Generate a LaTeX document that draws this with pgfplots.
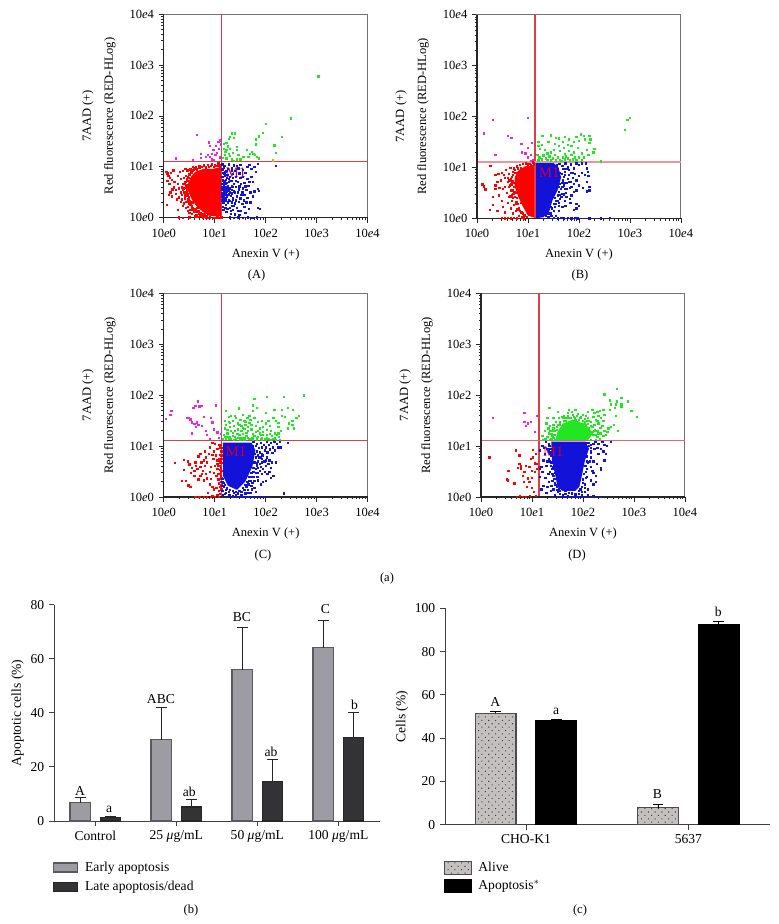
\documentclass[border=0pt]{standalone}
\usepackage{fontspec}
\setmainfont{Liberation Serif}
\usepackage{pgfplots}
\pgfplotsset{compat=1.18}
\usetikzlibrary{patterns.meta}
\newcommand\fl{\fontsize{9.4}{11}\selectfont}
\newcommand\fb{\fontsize{10.2}{12}\selectfont}
\definecolor{qline}{RGB}{222,60,72}
\definecolor{fred}{HTML}{FF0000}
\definecolor{fblue}{HTML}{1212D8}
\definecolor{fgreen}{HTML}{22E622}
\definecolor{fmag}{HTML}{E826E0}
\definecolor{forange}{HTML}{F0A020}
\definecolor{early}{HTML}{9C9CA2}
\definecolor{earlyb}{HTML}{5A5A5E}
\definecolor{late}{HTML}{333335}
\definecolor{alive}{HTML}{C4C0C0}
\pgfplotsset{
 flow/.style={
  scale only axis, width=152.9pt, height=152.7pt, anchor=south west,
  xmin=0,xmax=4,ymin=0,ymax=4,
  xtick={0,1,2,3,4},ytick={0,1,2,3,4},
  xticklabels={10\textit{e}0,10\textit{e}1,10\textit{e}2,10\textit{e}3,10\textit{e}4},
  yticklabels={10\textit{e}0,10\textit{e}1,10\textit{e}2,10\textit{e}3,10\textit{e}4},
  minor xtick={0.301,0.477,0.602,0.699,0.778,0.845,0.903,0.954,1.301,1.477,1.602,1.699,1.778,1.845,1.903,1.954,2.301,2.477,2.602,2.699,2.778,2.845,2.903,2.954,3.301,3.477,3.602,3.699,3.778,3.845,3.903,3.954},
  minor ytick={0.301,0.477,0.602,0.699,0.778,0.845,0.903,0.954,1.301,1.477,1.602,1.699,1.778,1.845,1.903,1.954,2.301,2.477,2.602,2.699,2.778,2.845,2.903,2.954,3.301,3.477,3.602,3.699,3.778,3.845,3.903,3.954},
  tick align=outside, xtick pos=bottom, ytick pos=left,
  major tick length=3.75pt, minor tick length=1.8pt,
  tick style={black!85,line width=.5pt},
  axis line style={black!55,line width=.8pt},
  tick label style={font=\fl},
  xticklabel style={yshift=-1pt},
  xlabel={Anexin V (+)}, ylabel={7AAD (+)\\[5.5pt]Red fluorescence (RED-HLog)},
  xlabel style={font=\fl,at={(axis description cs:0.5,-0.18)},anchor=center},
  ylabel style={font=\fl,at={(axis description cs:-0.318,0.5)},anchor=center,align=center},
  clip=false,
 },
 pts/.style={only marks,mark=square*,mark size=0.5pt,color=#1},
 core/.style={fill=#1,draw=none,mark=none},
 qln/.style={color=qline,line width=.9pt,mark=none},
 barax/.style={
  scale only axis, anchor=south west, height=162.3pt,
  axis x line*=bottom, axis y line*=left,
  axis line style={-,black!75,line width=.7pt},
  tick style={black!75,line width=.7pt},
  tick align=outside, major tick length=3.75pt,
  tick label style={font=\fb},
  /pgf/number format/assume math mode=true,
  ylabel style={font=\fb},
  ymin=0,
  clip=false,
  legend style={draw=none,fill=none,font=\fb,legend cell align=left,row sep=2.2pt,inner sep=0pt,column sep=3pt},
 },
}
\begin{document}
\begin{tikzpicture}
\path[use as bounding box] (0,0) rectangle (583.5pt,693pt);
% Log10 of the fluorescence is plotted. Dot clouds are read by eye from the picture;
% where the dots merge into a solid mass the mass is drawn as a filled area.
%% ---------- Panel A
\begin{axis}[flow,at={(122.78pt,529.73pt)}]
\addplot[core=fred] coordinates {(1.137,1.0)(0.97,0.96)(0.78,0.96)(0.62,0.9)(0.53,0.8)(0.48,0.68)(0.48,0.52)(0.55,0.36)(0.63,0.24)(0.76,0.12)(0.88,0.04)(1.137,0.02)} --cycle;
\addplot[pts=fred] coordinates {(0.07,0.87)(0.09,0.82)(0.12,0.79)(0.14,0.88)(0.07,0.72)(0.16,0.74)(0.2,0.6)(0.24,0.55)(0.13,0.5)(0.1,0.45)(0.16,0.42)(0.06,0.25)(0.27,0.66)(0.3,0.58)(0.33,0.5)(0.36,0.45)(0.3,0.4)(0.19,0.93)(0.05,0.9)(0.11,0.67)(0.17,0.56)(0.24,0.47)(0.27,0.82)(0.31,0.9)(0.34,0.77)(0.38,0.92)(0.42,0.96)(0.37,0.66)(0.4,0.58)(0.43,0.82)(0.46,0.93)(0.41,0.38)(0.44,0.31)(0.38,0.24)(0.47,0.22)(0.5,0.28)(0.52,0.15)(0.56,0.2)(0.6,0.11)(0.64,0.06)(0.68,0.14)(0.72,0.05)(0.76,0.01)(0.82,0.01)(0.46,0.72)(0.44,0.6)(0.47,0.47)(0.49,0.4)(0.52,0.95)(0.57,1.0)(0.63,1.0)(0.7,1.02)(0.78,1.03)(0.86,1.04)(0.94,1.05)(1.0,1.03)(1.07,1.07)(1.12,1.04)(0.55,0.88)(0.59,0.95)(0.3,0.01)(0.38,0.0)(0.5,0.01)(0.56,0.3)(0.6,0.18)(0.72,0.1)(0.66,0.19)(0.8,0.06)(0.9,0.01)(0.96,0.0)(1.05,0.01)(1.1,0.0)(0.49,0.78)(0.51,0.62)(0.21,0.71)(0.26,0.36)(0.33,0.31)(0.28,0.16)(0.42,0.7)(0.44,0.64)(0.45,0.56)(0.44,0.5)(0.46,0.44)(0.48,0.36)(0.5,0.33)(0.52,0.26)(0.55,0.24)(0.58,0.16)(0.62,0.16)(0.66,0.12)(0.7,0.08)(0.74,0.07)(0.78,0.07)(0.84,0.03)(0.5,0.85)(0.47,0.8)(0.45,0.76)(0.53,0.9)(0.56,0.93)(0.6,0.97)(0.65,0.95)(0.7,0.98)(0.75,1.0)(0.82,0.99)(0.88,1.0)(0.92,1.02)(0.98,1.0)(1.05,1.02)(1.1,1.01)(0.4,0.5)(0.42,0.44)(0.38,0.55)(0.41,0.66)(0.39,0.78)(0.35,0.6)(0.36,0.36)(0.4,0.28)(0.43,0.2)(0.47,0.14)(0.5,0.1)(0.55,0.08)(0.62,0.03)(0.68,0.02)(0.8,0.02)(0.86,0.0)(1.0,0.0)(1.13,0.01)(1.07,0.0)};
\addplot[pts=fblue] coordinates {(1.15,0.95)(1.19,1.02)(1.23,0.92)(1.28,1.05)(1.33,0.97)(1.37,1.03)(1.4,0.92)(1.46,0.97)(1.5,1.04)(1.55,0.94)(1.6,0.88)(1.64,1.0)(1.68,1.04)(1.72,0.96)(1.78,1.0)(1.85,1.06)(1.8,0.9)(1.72,0.8)(1.64,0.77)(1.55,0.8)(1.48,0.87)(1.42,0.8)(1.36,0.86)(1.3,0.8)(1.25,0.84)(1.19,0.87)(1.15,0.8)(1.17,0.72)(1.22,0.75)(1.27,0.7)(1.33,0.72)(1.38,0.66)(1.45,0.7)(1.51,0.66)(1.58,0.69)(1.66,0.63)(1.75,0.7)(1.85,0.57)(1.86,0.53)(1.78,0.52)(1.7,0.5)(1.62,0.55)(1.54,0.5)(1.47,0.56)(1.4,0.5)(1.34,0.55)(1.28,0.57)(1.23,0.6)(1.18,0.62)(1.15,0.55)(1.2,0.5)(1.25,0.45)(1.31,0.43)(1.36,0.39)(1.43,0.42)(1.5,0.38)(1.57,0.34)(1.64,0.39)(1.54,0.27)(1.47,0.31)(1.4,0.28)(1.33,0.3)(1.27,0.35)(1.2,0.38)(1.15,0.42)(1.16,0.3)(1.22,0.25)(1.29,0.2)(1.36,0.16)(1.43,0.2)(1.5,0.14)(1.58,0.22)(1.67,0.18)(1.85,0.19)(1.89,0.18)(1.6,0.1)(1.48,0.06)(1.4,0.07)(1.31,0.08)(1.23,0.12)(1.17,0.16)(1.3,0.01)(1.38,0.0)(1.46,0.01)(1.55,0.0)(1.65,0.01)(1.74,0.0)(1.82,0.01)(1.15,0.67)(1.21,0.66)(1.26,0.62)(1.17,0.46)(1.19,0.56)(1.24,0.52)(1.3,0.5)(1.35,0.61)(1.42,0.61)(1.16,0.22)(1.21,0.33)(1.34,0.24)(1.45,0.13)(1.52,0.45)(1.6,0.62)(1.68,0.71)(2.2,1.02)(1.15,1.05)(1.18,0.98)(1.21,0.9)(1.16,0.88)(1.2,0.82)(1.24,0.78)(1.16,0.75)(1.19,0.7)(1.23,0.68)(1.27,0.76)(1.3,0.72)(1.15,0.6)(1.17,0.58)(1.21,0.56)(1.24,0.57)(1.27,0.53)(1.3,0.58)(1.33,0.62)(1.18,0.52)(1.21,0.46)(1.24,0.42)(1.28,0.46)(1.33,0.48)(1.38,0.52)(1.15,0.48)(1.17,0.4)(1.22,0.36)(1.26,0.3)(1.3,0.33)(1.35,0.36)(1.15,0.34)(1.18,0.3)(1.21,0.2)(1.25,0.17)(1.32,0.14)(1.38,0.24)(1.42,0.34)(1.45,0.5)(1.48,0.62)(1.41,0.72)(1.36,0.78)(1.33,0.92)(1.26,0.96)(1.43,1.02)(1.5,0.78)(1.55,0.58)(1.58,0.45)(1.62,0.3)(1.7,0.3)(1.75,0.42)};
\addplot[pts=fgreen] coordinates {(3.03,2.78)(2.49,1.95)(2.0,1.84)(1.94,1.67)(1.86,1.6)(1.81,1.54)(1.81,1.44)(2.17,1.42)(2.31,1.59)(2.2,1.27)(1.33,1.66)(1.4,1.66)(1.29,1.59)(1.37,1.57)(1.27,1.55)(1.18,1.45)(1.23,1.47)(1.3,1.36)(1.23,1.33)(1.18,1.36)(1.27,1.26)(1.2,1.23)(1.3,1.21)(1.23,1.17)(1.33,1.15)(1.43,1.39)(1.43,1.33)(1.46,1.23)(1.5,1.15)(1.43,1.15)(1.56,1.2)(1.63,1.33)(1.66,1.2)(1.73,1.29)(1.76,1.26)(1.79,1.23)(1.83,1.2)(1.86,1.17)(1.69,1.26)(1.26,1.4)(1.21,1.29)(1.36,1.28)(1.16,1.18)(1.38,1.12)};
\addplot[pts=forange] coordinates {(2.14,1.13)};
\addplot[pts=fmag] coordinates {(0.24,1.17)(0.65,1.63)(0.57,1.13)(0.73,1.25)(0.73,1.18)(0.83,1.2)(0.88,1.48)(0.9,1.41)(0.91,1.2)(0.94,1.25)(0.97,1.33)(1.02,1.41)(1.04,1.27)(1.07,1.49)(1.1,1.52)(1.08,1.36)(1.1,1.19)(1.12,1.44)(1.01,1.23)(0.97,1.14)(0.94,1.15)(0.86,1.24)};
\addplot[qln] coordinates {(1.137,0)(1.137,4)};
\addplot[qln] coordinates {(0,1.105)(4,1.105)};
\node[text=purple!80!red,font=\fontsize{11}{12}\selectfont] at (axis cs:1.42,0.89) {M1};
\draw[black!85,line width=.9pt] (rel axis cs:0,1)--(rel axis cs:0,0)--(rel axis cs:1,0);
\end{axis}
%% ---------- Panel B
\begin{axis}[flow,at={(357.75pt,529.28pt)}]
\addplot[core=fred] coordinates {(1.137,1.05)(0.94,1.02)(0.8,0.93)(0.74,0.8)(0.74,0.62)(0.81,0.42)(0.9,0.23)(1.0,0.05)(1.137,0.01)} --cycle;
\addplot[pts=fred] coordinates {(0.1,0.67)(0.13,0.63)(0.16,0.57)(0.31,0.27)(0.31,0.42)(0.36,0.58)(0.36,0.65)(0.25,0.17)(0.4,0.15)(0.48,0.35)(0.5,0.22)(0.55,0.12)(0.6,0.3)(0.43,0.45)(0.4,0.72)(0.46,0.75)(0.52,0.85)(0.48,0.9)(0.56,0.95)(0.62,0.88)(0.6,0.72)(0.55,0.62)(0.5,0.58)(0.58,0.5)(0.63,0.42)(0.66,0.55)(0.68,0.35)(0.72,0.27)(0.66,0.2)(0.7,0.1)(0.76,0.15)(0.82,0.05)(0.88,0.02)(0.65,0.99)(0.7,0.92)(0.64,0.65)(0.69,0.73)(0.72,0.98)(0.78,1.02)(0.84,1.05)(0.9,1.07)(0.96,1.08)(1.03,1.07)(1.09,1.1)(0.55,0.8)(0.6,0.8)(0.68,0.82)(0.72,0.62)(0.71,0.48)(0.77,0.33)(0.82,0.2)(0.9,0.1)(0.48,0.01)(0.55,0.0)(0.6,0.01)(0.66,0.0)(0.72,0.01)(0.78,0.0)(0.92,0.0)(0.26,1.03)(0.36,0.85)(0.68,0.45)(0.75,0.9)(0.42,0.88)(0.44,0.6)(0.72,0.7)(0.7,0.85)(0.74,0.95)(0.66,0.78)(0.67,0.67)(0.7,0.55)(0.74,0.42)(0.76,0.28)(0.8,0.28)(0.84,0.15)(0.87,0.12)(0.93,0.06)(0.97,0.03)(0.79,0.18)(0.65,0.43)(0.7,0.4)(0.62,0.62)(0.63,0.75)(0.8,0.98)(0.86,0.98)(1.0,1.06)(1.05,1.05)(1.12,1.08)(0.73,0.52)(0.77,0.5)(0.78,0.4)(0.86,0.3)};
\addplot[core=fblue] coordinates {(1.15,1.09)(1.5,1.09)(1.6,1.0)(1.65,0.8)(1.58,0.55)(1.48,0.35)(1.42,0.14)(1.3,0.02)(1.15,0.0)} --cycle;
\addplot[pts=fblue] coordinates {(1.6,1.07)(1.67,1.03)(1.73,1.08)(1.78,1.0)(1.84,1.06)(1.9,0.98)(1.95,1.08)(2.0,1.05)(2.06,1.08)(2.13,1.08)(2.16,0.98)(2.17,0.92)(2.05,0.9)(2.0,0.83)(2.12,0.85)(2.18,0.83)(2.16,0.72)(1.95,0.75)(1.88,0.9)(1.8,0.85)(1.72,0.92)(1.68,0.75)(1.75,0.7)(1.83,0.72)(1.9,0.68)(2.0,0.65)(2.08,0.6)(2.2,0.62)(2.2,0.55)(2.15,0.53)(1.95,0.55)(1.82,0.6)(1.7,0.65)(1.64,0.58)(1.74,0.5)(1.85,0.45)(1.9,0.52)(1.72,0.35)(1.65,0.42)(1.58,0.45)(1.6,0.3)(1.67,0.22)(1.73,0.25)(1.83,0.3)(1.95,0.28)(2.0,0.25)(1.9,0.17)(1.95,0.2)(1.6,0.15)(1.52,0.22)(1.45,0.1)(1.55,0.05)(1.4,0.03)(1.35,0.06)(1.5,0.01)(1.58,0.0)(1.65,0.01)(1.7,0.0)(1.78,0.01)(1.85,0.0)(1.92,0.01)(1.97,0.0)(2.2,0.0)(2.43,0.0)(2.6,0.01)(1.55,0.7)(1.62,0.9)(1.56,1.04)(1.62,0.68)(1.7,0.82)(1.88,0.8)(1.8,0.95)(1.76,0.58)(1.66,0.48)(1.55,0.34)(1.5,0.28)(1.47,0.2)(1.58,0.35)(1.75,0.42)(1.82,0.38)(1.63,1.07)(1.69,0.97)(1.75,0.97)(1.66,0.88)(1.72,0.86)(1.78,0.78)(1.66,0.7)(1.71,0.7)(1.6,0.62)(1.67,0.62)(1.72,0.58)(1.6,0.52)(1.7,0.47)(1.62,0.46)(1.52,0.4)(1.62,0.38)(1.54,0.28)(1.6,0.24)(1.45,0.22)(1.5,0.15)(1.42,0.1)(1.46,0.05)(1.38,0.09)(1.8,0.72)(1.85,0.9)(1.92,0.88)(1.85,0.62)};
\addplot[pts=fgreen] coordinates {(3.0,1.98)(2.95,1.93)(2.9,1.74)(2.43,1.12)(2.3,1.37)(2.28,1.3)(2.22,1.55)(2.2,1.62)(2.2,1.48)(2.12,1.55)(2.1,1.62)(2.03,1.65)(2.0,1.52)(1.95,1.6)(1.9,1.5)(1.85,1.42)(1.8,1.55)(1.72,1.6)(1.78,1.45)(1.68,1.5)(1.6,1.57)(1.55,1.58)(1.45,1.63)(1.4,1.5)(1.28,1.62)(1.2,1.5)(1.2,1.42)(1.23,1.37)(1.27,1.44)(1.33,1.35)(1.38,1.28)(1.45,1.3)(1.5,1.35)(1.52,1.47)(1.6,1.42)(1.63,1.32)(1.7,1.38)(1.72,1.27)(1.8,1.32)(1.85,1.25)(1.9,1.3)(1.92,1.2)(1.98,1.38)(2.05,1.28)(2.1,1.2)(2.18,1.25)(2.15,1.35)(1.18,1.25)(1.22,1.2)(1.3,1.24)(1.35,1.18)(1.42,1.22)(1.48,1.18)(1.52,1.25)(1.58,1.2)(1.62,1.15)(1.68,1.2)(1.72,1.16)(1.78,1.18)(1.82,1.14)(1.88,1.16)(1.95,1.14)(2.0,1.2)(1.45,1.14)(1.38,1.15)(1.27,1.16)(1.2,1.14)(1.55,1.14)(1.65,1.13)(2.05,1.14)(1.74,1.22)};
\addplot[pts=fmag] coordinates {(0.31,1.94)(0.13,1.67)(0.61,1.62)(1.0,1.97)(0.36,1.25)(0.87,1.47)(1.0,1.38)(1.08,1.48)(0.88,1.3)(0.95,1.28)(1.05,1.25)(1.0,1.2)(1.05,1.13)(1.1,1.15)(0.67,1.58)};
\addplot[qln] coordinates {(1.137,0)(1.137,4)};
\addplot[color=qline!55,line width=1.3pt,mark=none] coordinates {(0,1.105)(4,1.105)};
\node[text=purple!80!red,font=\fontsize{11}{12}\selectfont] at (axis cs:1.42,0.89) {M1};
\draw[black!85,line width=.9pt] (rel axis cs:0,1)--(rel axis cs:0,0)--(rel axis cs:1,0);
\end{axis}
%% ---------- Panel C
\begin{axis}[flow,at={(122.78pt,320.25pt)}]
\addplot[pts=fred] coordinates {(0.22,0.67)(0.4,0.73)(0.47,0.7)(0.5,0.64)(0.4,0.54)(0.35,0.32)(0.43,0.32)(0.48,0.23)(0.52,0.2)(0.55,0.58)(0.53,0.47)(0.6,0.52)(0.62,0.68)(0.63,0.62)(0.68,0.8)(0.72,0.85)(0.8,0.9)(0.82,0.78)(0.74,0.68)(0.78,0.72)(0.8,0.62)(0.76,0.52)(0.82,0.45)(0.72,0.42)(0.68,0.35)(0.78,0.33)(0.85,0.37)(0.9,0.5)(0.92,0.6)(0.97,0.75)(0.98,0.9)(1.05,0.95)(0.9,0.98)(0.88,0.85)(0.95,0.83)(1.02,0.82)(1.05,0.72)(1.0,0.62)(1.05,0.55)(0.98,0.48)(1.03,0.42)(0.92,0.36)(1.07,0.35)(0.9,0.25)(0.95,0.2)(0.98,0.15)(1.03,0.18)(1.08,0.27)(1.08,0.12)(1.1,0.62)(1.12,0.5)(1.12,0.72)(1.1,0.83)(1.12,0.42)(1.13,0.9)(1.08,1.02)(0.95,1.06)(1.0,1.05)(1.12,1.03)(1.1,0.98)(1.13,0.3)(1.1,0.2)(1.13,0.15)(1.1,0.06)(1.05,0.05)(0.95,0.03)(0.87,0.08)(0.62,0.01)(0.7,0.0)(0.78,0.01)(0.85,0.0)(0.92,0.01)(1.0,0.0)(1.08,0.01)(1.05,0.65)(1.09,0.45)(1.12,0.58)(1.13,0.67)(1.1,0.36)(1.13,0.82)(0.85,0.68)(0.6,0.42)(0.66,0.55)(0.72,0.6)(0.75,0.46)(1.13,0.97)(1.13,0.75)(1.13,0.52)(1.13,0.38)(1.13,0.23)(1.11,0.68)(1.11,0.54)(1.09,0.74)(1.07,0.62)(1.07,0.46)};
\addplot[core=fblue] coordinates {(1.16,1.07)(1.72,1.07)(1.8,0.92)(1.74,0.6)(1.6,0.3)(1.44,0.14)(1.26,0.22)(1.16,0.42)} --cycle;
\addplot[pts=fblue] coordinates {(1.15,0.3)(1.18,0.2)(1.22,0.14)(1.27,0.1)(1.2,0.06)(1.3,0.05)(1.38,0.08)(1.45,0.07)(1.52,0.1)(1.58,0.14)(1.62,0.2)(1.66,0.25)(1.7,0.32)(1.74,0.28)(1.76,0.4)(1.8,0.48)(1.84,0.4)(1.88,0.52)(1.92,0.45)(1.95,0.55)(1.98,0.5)(2.0,0.62)(2.03,0.46)(2.07,0.5)(1.82,0.62)(1.85,0.7)(1.88,0.65)(1.92,0.75)(1.97,0.7)(2.02,0.78)(2.07,0.72)(2.12,0.68)(2.2,0.68)(1.84,0.82)(1.88,0.88)(1.92,0.84)(1.98,0.92)(2.03,0.88)(2.08,0.94)(2.13,0.87)(2.18,0.92)(2.25,0.98)(1.76,1.08)(1.83,1.05)(1.9,1.07)(1.96,1.03)(2.02,1.08)(2.1,1.06)(2.17,1.08)(2.22,1.05)(2.28,1.08)(2.43,1.07)(2.3,0.98)(1.3,0.0)(1.38,0.01)(1.45,0.0)(1.52,0.01)(1.6,0.0)(1.68,0.01)(1.75,0.0)(1.85,0.01)(1.95,0.0)(2.02,0.01)(2.35,0.07)(1.8,0.1)(1.7,0.08)(1.9,0.25)(1.85,0.33)(2.0,0.32)(2.1,0.38)(2.15,0.42)(1.78,0.18)(1.6,0.07)(1.65,0.14)(1.15,0.12)(1.16,0.05)(2.1,0.58)(2.05,0.65)(1.95,0.3)(1.72,0.22)(1.75,1.0)(1.8,1.0)(1.86,0.97)(1.92,0.98)(1.78,0.85)(1.83,0.9)(1.8,0.78)(1.86,0.78)(1.9,0.78)(1.78,0.68)(1.83,0.66)(1.76,0.58)(1.8,0.56)(1.85,0.58)(1.9,0.6)(1.72,0.48)(1.76,0.5)(1.68,0.4)(1.72,0.4)(1.64,0.3)(1.68,0.32)(1.6,0.24)(1.55,0.18)(1.48,0.12)(1.42,0.1)(1.35,0.12)(1.3,0.14)(1.24,0.17)(1.2,0.24)(1.17,0.28)(1.15,0.36)(1.15,0.22)(1.22,0.08)(1.85,0.48)(1.82,0.4)(1.78,0.32)(1.73,0.15)(1.65,0.08)(1.52,0.04)(1.42,0.05)(1.35,0.03)(1.27,0.04)(1.95,0.82)(2.0,0.98)(2.06,1.02)(2.0,0.72)(1.93,0.68)(2.14,0.98)};
\addplot[pts=fgreen] coordinates {(1.22,1.7)(1.47,1.74)(1.75,1.8)(1.78,1.93)(2.02,1.97)(2.35,1.97)(2.75,2.0)(2.53,1.72)(2.65,1.6)(2.6,1.55)(2.43,1.75)(2.32,1.72)(2.17,1.72)(2.0,1.66)(1.83,1.75)(1.75,1.7)(1.68,1.6)(1.55,1.62)(1.4,1.6)(1.32,1.6)(1.28,1.58)(1.2,1.5)(1.22,1.42)(1.28,1.48)(1.35,1.5)(1.42,1.55)(1.5,1.52)(1.58,1.5)(1.64,1.55)(1.7,1.52)(1.78,1.55)(1.85,1.48)(1.92,1.5)(2.0,1.45)(2.08,1.4)(2.15,1.55)(2.2,1.5)(2.32,1.6)(2.45,1.45)(2.52,1.42)(2.55,1.35)(2.43,1.35)(2.3,1.3)(2.25,1.38)(2.18,1.25)(2.1,1.3)(2.02,1.32)(1.95,1.38)(1.88,1.35)(1.8,1.4)(1.72,1.42)(1.65,1.38)(1.6,1.42)(1.52,1.4)(1.45,1.45)(1.38,1.4)(1.3,1.38)(1.25,1.32)(1.2,1.35)(1.18,1.22)(1.25,1.25)(1.32,1.3)(1.4,1.3)(1.45,1.33)(1.52,1.3)(1.58,1.34)(1.65,1.3)(1.72,1.33)(1.8,1.28)(1.88,1.25)(1.95,1.28)(2.02,1.22)(2.08,1.24)(2.12,1.2)(2.18,1.16)(2.22,1.22)(2.26,1.18)(2.28,1.13)(2.15,1.14)(2.05,1.14)(1.98,1.15)(1.9,1.14)(1.85,1.18)(1.78,1.2)(1.7,1.15)(1.62,1.2)(1.55,1.15)(1.48,1.22)(1.42,1.15)(1.35,1.2)(1.28,1.15)(1.22,1.15)(1.16,1.14)(1.2,1.18)(1.32,1.14)(1.38,1.13)(1.5,1.13)(1.58,1.13)(1.68,1.14)(1.75,1.13)(1.82,1.13)(1.92,1.13)(2.0,1.13)(2.1,1.13)(2.2,1.13)(2.25,1.25)(1.35,1.26)(1.44,1.24)(1.55,1.24)(1.62,1.26)(1.75,1.24)(1.68,1.46)(1.9,1.22)(2.05,1.5)(1.48,1.42)(1.3,1.46)(2.38,1.58)(2.52,1.5)(2.25,1.46)(1.25,1.18)(1.3,1.18)(1.4,1.18)(1.46,1.17)(1.52,1.17)(1.58,1.17)(1.65,1.17)(1.74,1.17)(1.82,1.17)(1.93,1.17)(2.02,1.17)(1.6,1.48)(1.55,1.36)(1.85,1.3)(1.95,1.22)};
\addplot[pts=fmag] coordinates {(0.04,1.54)(0.13,1.62)(0.15,1.69)(0.45,1.56)(0.48,1.55)(0.52,1.53)(0.55,1.47)(0.6,1.44)(0.63,1.38)(0.65,1.47)(0.68,1.42)(0.75,1.4)(0.78,1.58)(0.92,1.55)(0.95,1.47)(0.58,1.75)(0.62,1.79)(0.67,1.88)(0.7,1.78)(0.75,1.79)(1.02,1.8)(0.55,1.25)(0.83,1.3)(0.85,1.22)(0.98,1.33)(1.05,1.27)(1.08,1.16)(1.12,1.24)(0.9,1.15)};
\addplot[qln] coordinates {(1.137,0)(1.137,4)};
\addplot[qln] coordinates {(0,1.11)(4,1.11)};
\node[text=purple!80!red,font=\fontsize{11}{12}\selectfont] at (axis cs:1.42,0.89) {M1};
\draw[black!85,line width=.9pt] (rel axis cs:0,1)--(rel axis cs:0,0)--(rel axis cs:1,0);
\end{axis}
%% ---------- Panel D
\begin{axis}[flow,at={(360.75pt,320.25pt)}]
\addplot[pts=fred] coordinates {(0.16,0.78)(0.52,0.52)(0.53,0.33)(0.55,0.52)(0.5,0.35)(0.65,0.27)(0.68,0.92)(0.75,0.82)(0.75,0.65)(0.78,0.57)(0.72,0.58)(0.78,0.55)(0.82,0.42)(0.85,0.5)(0.88,0.62)(0.92,0.37)(0.95,0.3)(1.0,0.52)(1.02,0.78)(0.95,0.6)(0.98,0.75)(1.0,0.38)(1.05,0.5)(1.1,0.65)(1.08,0.85)(1.02,0.93)(1.1,0.55)(1.0,0.18)(0.9,0.2)(1.03,0.1)(1.07,0.03)(0.7,0.01)(0.76,0.02)(0.82,0.0)(0.88,0.01)(0.96,0.02)(0.78,0.62)(0.84,0.3)(1.13,0.6)(1.05,0.66)};
\addplot[core=fblue] coordinates {(1.38,1.09)(2.05,1.09)(2.12,0.95)(2.04,0.72)(1.98,0.42)(1.93,0.2)(1.85,0.12)(1.6,0.12)(1.5,0.2)(1.46,0.42)(1.39,0.72)} --cycle;
\addplot[pts=fblue] coordinates {(1.2,1.0)(1.15,0.92)(1.25,0.85)(1.22,0.72)(1.18,0.6)(1.28,0.62)(1.2,0.5)(1.32,0.45)(1.26,0.38)(1.15,0.55)(1.3,0.95)(1.33,1.05)(1.27,1.08)(1.35,0.85)(1.33,0.75)(1.37,0.62)(1.4,0.55)(1.35,0.5)(1.42,0.42)(1.4,0.32)(1.45,0.28)(1.48,0.2)(1.42,0.15)(1.5,0.1)(1.45,0.05)(1.55,0.12)(1.6,0.05)(1.65,0.13)(1.72,0.08)(1.78,0.14)(1.85,0.06)(1.92,0.12)(1.98,0.05)(2.03,0.1)(2.1,0.04)(1.5,0.3)(1.45,0.48)(1.52,0.15)(1.98,0.2)(2.04,0.25)(2.1,0.15)(2.0,0.35)(2.08,0.4)(2.15,0.33)(2.2,0.25)(2.08,0.55)(2.15,0.6)(2.2,0.48)(2.25,0.42)(2.35,0.53)(2.35,0.58)(2.08,0.7)(2.15,0.78)(2.2,0.7)(2.27,0.65)(2.42,0.72)(2.45,0.85)(2.15,0.9)(2.22,0.95)(2.3,0.85)(2.35,0.95)(2.2,1.05)(2.12,1.07)(2.3,1.05)(2.42,1.03)(2.55,1.08)(2.38,1.08)(2.47,1.0)(1.5,0.0)(1.58,0.01)(1.65,0.0)(1.72,0.01)(1.8,0.0)(1.88,0.01)(1.95,0.0)(2.02,0.01)(2.1,0.0)(2.2,0.02)(2.35,0.0)(1.6,0.18)(1.7,0.16)(1.82,0.18)(1.15,0.4)(1.22,0.22)(1.3,0.2)(1.18,0.15)(1.28,0.08)(1.37,0.12)(1.38,0.22)(1.33,0.3)(2.03,0.62)(2.05,0.82)(2.18,0.52)(2.12,1.0)(2.28,0.97)(2.4,0.9)(2.02,0.45)(1.95,0.15)(2.25,0.3)(1.23,0.97)(1.3,0.7)(1.34,1.0)(1.36,0.95)(1.37,0.88)(1.33,0.9)(1.38,0.82)(1.35,0.7)(1.38,0.68)(1.42,0.6)(1.4,0.45)(1.44,0.36)(1.46,0.24)(1.48,0.14)(1.55,0.06)(1.7,0.03)(1.85,0.03)(1.98,0.1)(2.0,0.28)(2.05,0.38)(2.06,0.5)(2.06,0.62)(2.08,0.8)(2.16,0.88)(2.15,0.97)(2.08,1.06)(2.16,1.02)(2.24,1.08)(2.1,0.68)(2.14,0.7)(2.03,0.18)(1.65,0.06)(1.78,0.07)(1.92,0.06)};
\addplot[core=fgreen] coordinates {(1.46,1.12)(2.1,1.12)(2.2,1.25)(2.06,1.42)(1.8,1.52)(1.6,1.44)(1.5,1.28)} --cycle;
\addplot[pts=fgreen] coordinates {(1.22,1.13)(1.2,1.2)(1.25,1.3)(1.3,1.18)(1.33,1.25)(1.38,1.15)(1.4,1.3)(1.42,1.42)(1.35,1.4)(1.28,1.45)(1.3,1.55)(1.34,1.75)(1.42,1.56)(1.47,1.48)(1.52,1.55)(1.55,1.45)(1.45,1.22)(1.48,1.32)(1.5,1.42)(1.6,1.55)(1.66,1.5)(1.7,1.55)(1.78,1.5)(1.82,1.58)(1.9,1.48)(1.95,1.55)(2.0,1.5)(2.05,1.6)(2.1,1.55)(2.15,1.48)(2.2,1.58)(2.25,1.52)(2.3,1.6)(2.33,1.7)(2.28,1.68)(2.18,1.72)(2.1,1.68)(2.0,1.62)(1.9,1.64)(1.78,1.68)(1.7,1.65)(1.62,1.6)(1.5,1.68)(2.05,1.42)(2.12,1.35)(2.18,1.38)(2.22,1.42)(2.28,1.3)(2.35,1.25)(2.42,1.3)(2.5,1.35)(2.55,1.38)(2.2,1.22)(2.28,1.18)(2.33,1.14)(2.15,1.13)(2.4,1.2)(2.18,1.28)(2.48,1.28)(2.6,1.42)(2.65,1.6)(2.68,1.3)(2.75,1.82)(2.75,1.78)(2.67,1.88)(2.65,1.82)(2.52,1.9)(2.55,1.82)(2.42,2.02)(2.53,1.72)(2.62,1.75)(2.88,1.88)(2.95,1.7)(3.05,1.58)(2.67,2.13)(2.75,1.95)(2.42,1.62)(2.35,1.55)(1.45,1.12)(1.42,1.17)(1.35,1.13)(1.55,1.42)(1.85,1.52)(1.68,1.44)(2.0,1.44)(2.08,1.5)(1.58,1.3)(1.42,1.22)(1.52,1.12)(1.32,1.35)(1.26,1.15)(2.23,1.32)(2.12,1.18)(2.25,1.13)(2.38,1.4)(1.44,1.3)(1.48,1.38)(1.54,1.48)(1.62,1.5)(1.7,1.6)(1.75,1.56)(1.84,1.56)(1.92,1.52)(2.03,1.47)(2.1,1.44)(2.16,1.4)(2.22,1.3)(2.25,1.22)(2.3,1.25)(1.4,1.2)(1.38,1.24)(1.36,1.3)(1.42,1.35)(1.58,1.58)(1.65,1.55)(1.8,1.62)(1.88,1.6)(1.96,1.58)(2.04,1.54)(2.12,1.5)(2.3,1.45)(2.4,1.5)(2.45,1.22)(2.34,1.36)(2.28,1.5)(1.72,1.72)(1.85,1.72)(2.22,1.65)(2.4,1.72)};
\addplot[pts=fmag] coordinates {(0.23,1.55)(0.85,1.48)(0.88,1.4)(0.92,1.45)(0.98,1.48)(1.1,1.6)(0.85,1.65)(1.05,1.28)};
\addplot[qln] coordinates {(1.137,0)(1.137,4)};
\addplot[color=qline!80,line width=1pt,mark=none] coordinates {(0,1.105)(4,1.105)};
\node[text=purple!80!red,font=\fontsize{11}{12}\selectfont] at (axis cs:1.42,0.89) {M1};
\draw[black!85,line width=.9pt] (rel axis cs:0,1)--(rel axis cs:0,0)--(rel axis cs:1,0);
\end{axis}
\node[font=\fl] at (192.5pt,486.75pt) {(A)};
\node[font=\fl] at (435pt,486.75pt) {(B)};
\node[font=\fl] at (197.25pt,276.75pt) {(C)};
\node[font=\fl] at (432.75pt,276.75pt) {(D)};
\node[font=\fl] at (290.25pt,259.5pt) {(a)};
%% ---------- Panel b
\begin{axis}[barax,at={(40.5pt,77.25pt)},width=244.5pt,
  xmin=-0.51,xmax=3.514,ymax=80,ytick={0,20,40,60,80},xtick={0,1,2,3},
  xticklabels={Control,25 \textit{μ}g/mL,50 \textit{μ}g/mL,100 \textit{μ}g/mL},
  ylabel={Apoptotic cells (\%)},
  ylabel style={at={(axis description cs:-0.112,0.5)},anchor=center},
  legend style={at={(axis description cs:-0.003,-0.175)},anchor=north west},
  legend image code/.code={\draw[#1] (0,-3.4pt) rectangle (18pt,3.4pt);},
 ]
\addplot[ybar,bar width=15.2pt,bar shift=0pt,fill=early,draw=earlyb,line width=.9pt,
  error bars/.cd,y dir=plus,y explicit,error bar style={black!85,line width=.6pt},error mark options={rotate=90,mark size=4pt,line width=.6pt,black!85}]
 coordinates {(-0.187,6.7)+-(0,1.9) (0.813,30.1)+-(0,11.9) (1.813,56)+-(0,15.5) (2.813,64)+-(0,10.2)};
\addlegendentry{Early apoptosis}
\addplot[ybar,bar width=15.2pt,bar shift=0pt,fill=late,draw=black!85,line width=.9pt,
  error bars/.cd,y dir=plus,y explicit,error bar style={black!85,line width=.6pt},error mark options={rotate=90,mark size=4pt,line width=.6pt,black!85}]
 coordinates {(0.187,1.4)+-(0,0.3) (1.187,5.2)+-(0,2.8) (2.187,14.7)+-(0,8) (3.187,31)+-(0,9)};
\addlegendentry{Late apoptosis/dead}
\node[font=\fb] at (axis cs:-0.19,11) {A};
\node[font=\fb] at (axis cs:0.17,4.2) {a};
\node[font=\fb] at (axis cs:0.81,45) {ABC};
\node[font=\fb] at (axis cs:1.16,10.8) {ab};
\node[font=\fb] at (axis cs:1.81,75.5) {BC};
\node[font=\fb] at (axis cs:2.17,25.5) {ab};
\node[font=\fb] at (axis cs:2.84,78.5) {C};
\node[font=\fb] at (axis cs:3.2,43) {b};
\end{axis}
\node[font=\fl] at (143.25pt,10.5pt) {(b)};
%% ---------- Panel c
\begin{axis}[barax,at={(333.75pt,74.48pt)},width=243.75pt,
  xmin=-0.499,xmax=1.503,ymax=100,ytick={0,20,40,60,80,100},xtick={0,1},
  xticklabels={CHO-K1,5637},
  ylabel={Cells (\%)},
  ylabel style={at={(axis description cs:-0.132,0.5)},anchor=center},
  legend style={at={(axis description cs:-0.003,-0.16)},anchor=north west,row sep=1pt},
  legend image code/.code={\draw[#1] (0,-5pt) rectangle (19.7pt,5pt);},
 ]
\addplot[ybar,bar width=30.5pt,bar shift=0pt,fill=alive,draw=black!70,line width=.9pt,
  postaction={pattern={Dots[distance=3.6pt,radius=.55pt,angle=45]},pattern color=black!75},
  error bars/.cd,y dir=plus,y explicit,error bar style={black,line width=.6pt},error mark options={rotate=90,mark size=4pt,line width=.6pt,black}]
 coordinates {(-0.187,51.5)+-(0,0.9) (0.813,7.9)+-(0,1.6)};
\addlegendentry{Alive}
\addplot[ybar,bar width=30.5pt,bar shift=0pt,fill=black,draw=black,line width=.9pt,
  error bars/.cd,y dir=plus,y explicit,error bar style={black,line width=.6pt},error mark options={rotate=90,mark size=4pt,line width=.6pt,black}]
 coordinates {(0.187,48)+-(0,0.5) (1.187,92.4)+-(0,1.7)};
\addlegendentry{Apoptosis$^*$}
\node[font=\fb] at (axis cs:-0.19,56.5) {A};
\node[font=\fb] at (axis cs:0.185,52.5) {a};
\node[font=\fb] at (axis cs:0.81,14) {B};
\node[font=\fb] at (axis cs:1.185,98.2) {b};
\end{axis}
\node[font=\fl] at (435pt,10.5pt) {(c)};
\end{tikzpicture}
\end{document}
